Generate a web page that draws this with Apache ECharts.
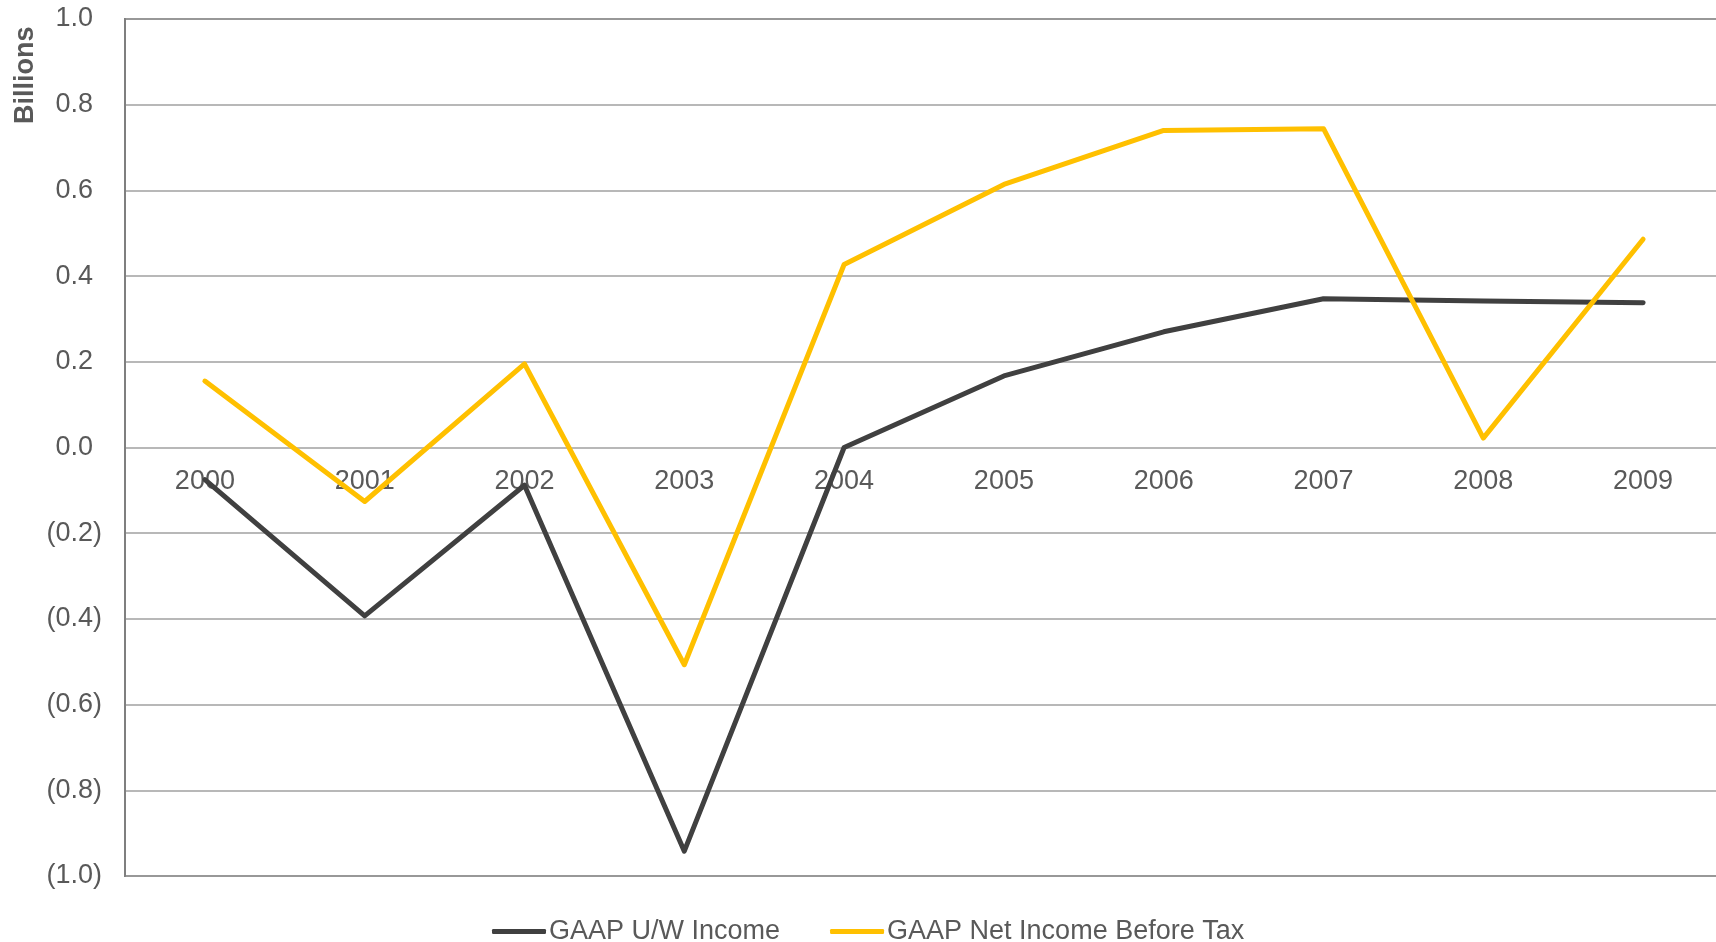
<!DOCTYPE html>
<html>
<head>
<meta charset="utf-8">
<title>GAAP Income</title>
<script src="https://cdn.jsdelivr.net/npm/echarts@6/dist/echarts.min.js"></script>
<style>
  html, body { margin: 0; padding: 0; background: #ffffff; }
  #chart { width: 1716px; height: 942px; }
</style>
</head>
<body>
<div id="chart"></div>
<script>
// Years along the category axis
const years = ['2000', '2001', '2002', '2003', '2004', '2005', '2006', '2007', '2008', '2009'];

// Values in billions
const uwIncome = [-0.075, -0.393, -0.088, -0.942, 0.0, 0.167, 0.27, 0.347, 0.342, 0.338];
const netIncomeBeforeTax = [0.155, -0.126, 0.195, -0.507, 0.427, 0.614, 0.74, 0.744, 0.022, 0.486];

// Value axis range and step
const yMin = -1.0;
const yMax = 1.0;
const yStep = 0.2;

const seriesNames = ['GAAP U/W Income', 'GAAP Net Income Before Tax'];

const FONT = '"Liberation Sans", Arial, "DejaVu Sans", sans-serif';
const TEXT = '#595959';
const GRIDLINE = '#a0a0a0';

// Plot area geometry
const GRID_TOP = 19;
const GRID_BOTTOM = 66;
const CHART_H = 942;
const plotH = CHART_H - GRID_TOP - GRID_BOTTOM;
// Distance from the bottom edge of the plot up to the zero line
const zeroLift = plotH * (0 - yMin) / (yMax - yMin);

const chart = echarts.init(document.getElementById('chart'), null, { renderer: 'canvas' });

// Accounting-style labels: negatives in parentheses, positives padded by a hidden ")"
function fmtValue(v) {
  const r = Math.round(v * 10) / 10;
  if (r < 0) return '(' + Math.abs(r).toFixed(1) + ')';
  return r.toFixed(1) + '{pad|)}';
}

chart.setOption({
  animation: false,
  backgroundColor: '#ffffff',
  textStyle: { fontFamily: FONT },
  grid: {
    left: 125, top: GRID_TOP, width: 1598, bottom: GRID_BOTTOM,
    outerBoundsMode: 'none',
    containLabel: false,
    show: true,
    borderColor: '#7f7f7f',
    borderWidth: 2,
    backgroundColor: 'transparent'
  },
  legend: {
    data: seriesNames,
    left: 487,
    top: 913,
    icon: 'roundRect',
    itemWidth: 54,
    itemHeight: 5,
    itemGap: 50,
    textStyle: { fontFamily: FONT, fontSize: 27, color: TEXT, padding: [0, 0, 0, -2] }
  },
  xAxis: {
    type: 'category',
    data: years,
    boundaryGap: true,
    position: 'bottom',
    // year labels sit just under the zero line
    offset: -zeroLift,
    axisLine: { show: false, onZero: false },
    axisTick: { show: false },
    splitLine: { show: false },
    axisLabel: { fontFamily: FONT, fontSize: 27, color: TEXT, margin: 21 }
  },
  yAxis: {
    type: 'value',
    min: yMin,
    max: yMax,
    interval: yStep,
    axisLine: { show: true, lineStyle: { color: '#7f7f7f', width: 2 } },
    axisTick: { show: false },
    splitLine: { show: true, lineStyle: { color: GRIDLINE, width: 1.5 } },
    axisLabel: {
      fontFamily: FONT,
      fontSize: 27,
      color: TEXT,
      margin: 23,
      formatter: fmtValue,
      rich: { pad: { fontFamily: FONT, fontSize: 27, color: 'rgba(0,0,0,0)' } }
    }
  },
  graphic: [
    {
      type: 'text',
      x: 12,
      y: 124,
      rotation: Math.PI / 2,
      style: {
        text: 'Billions',
        fontFamily: FONT,
        fontSize: 27,
        fontWeight: 'bold',
        fill: TEXT
      }
    }
  ],
  series: [
    {
      name: seriesNames[0],
      type: 'line',
      data: uwIncome,
      showSymbol: false,
      symbol: 'none',
      color: '#404040',
      lineStyle: { color: '#404040', width: 5, cap: 'round', join: 'round' },
      z: 3
    },
    {
      name: seriesNames[1],
      type: 'line',
      data: netIncomeBeforeTax,
      showSymbol: false,
      symbol: 'none',
      color: '#FFC000',
      lineStyle: { color: '#FFC000', width: 5, cap: 'round', join: 'round' },
      z: 4
    }
  ]
});
</script>
</body>
</html>
